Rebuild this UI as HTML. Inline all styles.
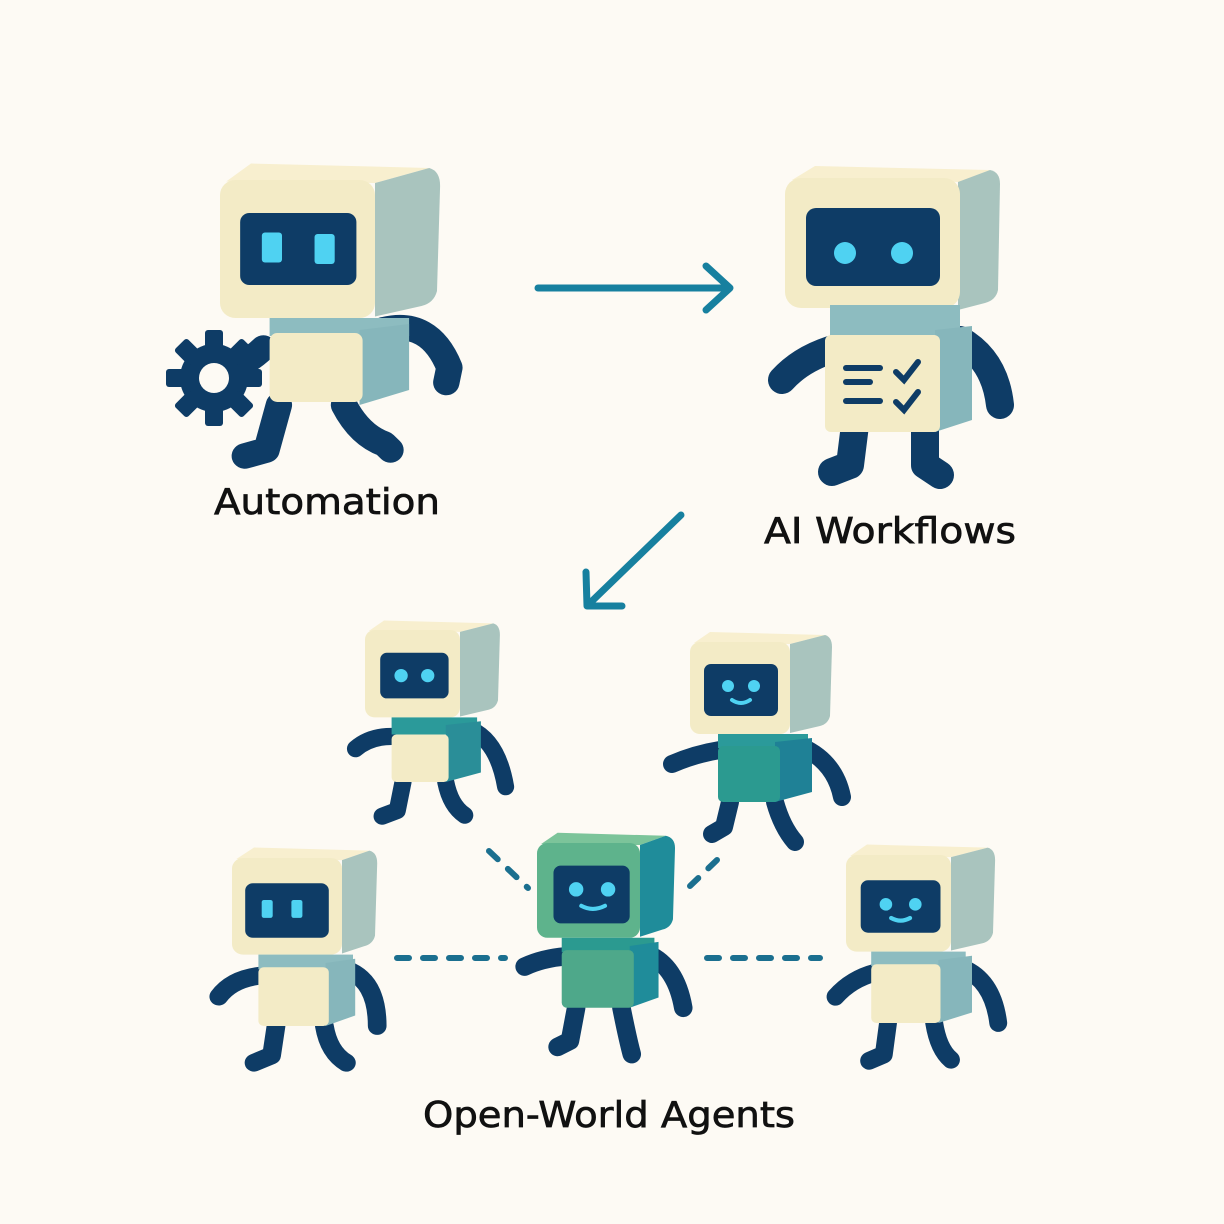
<!DOCTYPE html>
<html><head><meta charset="utf-8"><style>
html,body{margin:0;padding:0;background:#fdfaf4;}
svg{display:block}
text{font-family:"DejaVu Sans","Liberation Sans",sans-serif;fill:#111;stroke:#111;stroke-width:0.7;}
</style></head><body>
<svg width="1224" height="1224" viewBox="0 0 1224 1224" xmlns="http://www.w3.org/2000/svg">
<rect width="1224" height="1224" fill="#fdfaf4"/>

<g stroke="#17809f" stroke-width="7" stroke-linecap="round" fill="none" stroke-linejoin="round">
  <line x1="538" y1="288" x2="728" y2="288"/>
  <polyline points="706,266 730,288 706,310"/>
  <line x1="681" y1="515" x2="590" y2="603"/>
  <polyline points="586,572 587,606 622,606"/>
</g>

<g stroke="#1b6f8f" stroke-width="6" stroke-linecap="round" stroke-dasharray="12 14" fill="none">
  <line x1="489" y1="851" x2="528" y2="888"/>
  <line x1="717" y1="860" x2="690" y2="886"/>
  <line x1="397" y1="958" x2="505" y2="958"/>
  <line x1="707" y1="958" x2="820" y2="958"/>
</g>

<g transform="translate(220,180) scale(1.55,1.5)">
  <g stroke="#0e3c66" stroke-width="17" stroke-linecap="round" stroke-linejoin="round" fill="none">
    <path d="M105,100 Q135,92 148,125 L146,135"/>
    <path d="M28,112 Q15,125 -5,130"/>
    <path d="M38,150 L30,180 L16,184"/>
    <path d="M80,150 Q90,170 106,176 L110,180"/>
  </g>
  <path d="M4,1 L20,-11 L135,-8 L100,2 Z" fill="#f8efcf"/>
  <path d="M100,2 L135,-8 Q142,-6 142,4 L140,74 Q138,82 130,84 L100,91 Z" fill="#a9c4be"/>
  <rect x="0" y="0" width="100" height="92" rx="10" fill="#f3ebc6"/>
  <rect x="13" y="22" width="75" height="48" rx="6" fill="#0e3c66"/>
  <rect x="27" y="35" width="13" height="20" rx="2" fill="#4fd2f2"/>
  <rect x="61" y="36" width="13" height="20" rx="2" fill="#4fd2f2"/>
  <rect x="32" y="92" width="90" height="12" fill="#8dbcc0"/>
  <path d="M90,100 L122,96 L122,140 L90,150 Z" fill="#86b6bb"/>
  <rect x="32" y="102" width="60" height="46" rx="5" fill="#f3ebc6"/>
</g>
<g transform="translate(214,378)" fill="#0e3c66">
  <circle r="34"/>
  <g>
    <rect x="-9" y="-48" width="18" height="22" rx="3"/>
    <rect x="-9" y="-48" width="18" height="22" rx="3" transform="rotate(45)"/>
    <rect x="-9" y="-48" width="18" height="22" rx="3" transform="rotate(90)"/>
    <rect x="-9" y="-48" width="18" height="22" rx="3" transform="rotate(135)"/>
    <rect x="-9" y="-48" width="18" height="22" rx="3" transform="rotate(180)"/>
    <rect x="-9" y="-48" width="18" height="22" rx="3" transform="rotate(225)"/>
    <rect x="-9" y="-48" width="18" height="22" rx="3" transform="rotate(270)"/>
    <rect x="-9" y="-48" width="18" height="22" rx="3" transform="rotate(315)"/>
  </g>
  <circle r="15" fill="#fdfaf4"/>
</g>

<g stroke="#0e3c66" stroke-width="28" stroke-linecap="round" stroke-linejoin="round" fill="none">
  <path d="M830,350 Q800,360 782,380"/>
  <path d="M960,340 Q995,360 1000,405"/>
  <path d="M855,425 L850,465 L832,472"/>
  <path d="M925,425 L925,465 L940,475"/>
</g>
<path d="M792,180 L815,166 L990,170 L960,182 Z" fill="#f8efcf"/>
<path d="M958,182 L990,170 Q1000,172 1000,184 L998,290 Q996,300 985,303 L958,310 Z" fill="#a9c4be"/>
<rect x="785" y="178" width="175" height="130" rx="16" fill="#f3ebc6"/>
<rect x="806" y="208" width="134" height="78" rx="10" fill="#0e3c66"/>
<circle cx="845" cy="253" r="11" fill="#4fd2f2"/>
<circle cx="902" cy="253" r="11" fill="#4fd2f2"/>
<rect x="830" y="305" width="130" height="35" fill="#8dbcc0"/>
<path d="M935,330 L972,326 L972,420 L935,432 Z" fill="#86b6bb"/>
<rect x="825" y="335" width="115" height="97" rx="6" fill="#f3ebc6"/>
<g stroke="#0e3c66" stroke-width="6" stroke-linecap="round" fill="none">
  <line x1="846" y1="368" x2="880" y2="368"/>
  <line x1="846" y1="382" x2="870" y2="382"/>
  <line x1="846" y1="401" x2="880" y2="401"/>
  <polyline points="896,372 904,380 918,362"/>
  <polyline points="896,402 904,410 918,392"/>
</g>

<g transform="translate(365,630) scale(0.95)">
  <g stroke="#0e3c66" stroke-width="18" stroke-linecap="round" stroke-linejoin="round" fill="none">
    <path d="M28,112 Q5,112 -10,125"/>
    <path d="M112,105 Q140,118 148,165"/>
    <path d="M40,160 L34,190 L18,196"/>
    <path d="M85,160 Q90,185 105,195"/>
  </g>
  <path d="M4,1 L20,-10 L135,-7 L100,2 Z" fill="#f8efcf"/>
  <path d="M100,2 L135,-7 Q142,-5 142,5 L140,74 Q138,82 130,84 L100,91 Z" fill="#a9c4be"/>
  <rect x="0" y="0" width="100" height="92" rx="10" fill="#f3ebc6"/>
  <rect x="16" y="24" width="72" height="48" rx="7" fill="#0e3c66"/>
  <circle cx="38" cy="48" r="7" fill="#4fd2f2"/>
  <circle cx="66" cy="48" r="7" fill="#4fd2f2"/>
  <rect x="28" y="92" width="90" height="18" fill="#2b9a9a"/>
  <path d="M85,100 L122,96 L122,150 L85,160 Z" fill="#2a8e98"/>
  <rect x="28" y="110" width="60" height="50" rx="5" fill="#f3ebc6"/>
</g>

<g transform="translate(690,642) scale(1.0)">
  <g stroke="#0e3c66" stroke-width="18" stroke-linecap="round" stroke-linejoin="round" fill="none">
    <path d="M30,108 Q5,112 -18,122"/>
    <path d="M112,105 Q145,120 152,155"/>
    <path d="M40,160 L34,185 L22,192"/>
    <path d="M85,160 Q92,185 105,200"/>
  </g>
  <path d="M4,1 L20,-10 L135,-7 L100,2 Z" fill="#f8efcf"/>
  <path d="M100,2 L135,-7 Q142,-5 142,5 L140,74 Q138,82 130,84 L100,91 Z" fill="#a9c4be"/>
  <rect x="0" y="0" width="100" height="92" rx="10" fill="#f3ebc6"/>
  <rect x="14" y="22" width="74" height="52" rx="7" fill="#0e3c66"/>
  <circle cx="38" cy="44" r="6" fill="#4fd2f2"/>
  <circle cx="64" cy="44" r="6" fill="#4fd2f2"/>
  <path d="M42,58 Q51,64 60,58" stroke="#4fd2f2" stroke-width="4" fill="none" stroke-linecap="round"/>
  <rect x="28" y="92" width="90" height="14" fill="#2b9a9a"/>
  <path d="M85,100 L122,96 L122,150 L85,160 Z" fill="#1f8196"/>
  <rect x="28" y="104" width="62" height="56" rx="5" fill="#2b9a90"/>
</g>

<g transform="translate(537,843) scale(1.03)">
  <g stroke="#0e3c66" stroke-width="18" stroke-linecap="round" stroke-linejoin="round" fill="none">
    <path d="M28,110 Q5,112 -12,120"/>
    <path d="M108,108 Q135,120 142,160"/>
    <path d="M38,160 L32,192 L20,198"/>
    <path d="M82,160 Q88,190 92,205"/>
  </g>
  <path d="M4,1 L20,-10 L125,-7 L100,2 Z" fill="#7cc49a"/>
  <path d="M100,2 L125,-7 Q134,-5 134,5 L132,74 Q130,82 122,84 L100,91 Z" fill="#1f8c9a"/>
  <rect x="0" y="0" width="100" height="92" rx="10" fill="#5eb38c"/>
  <rect x="16" y="22" width="74" height="56" rx="7" fill="#0e3c66"/>
  <circle cx="38" cy="45" r="7" fill="#4fd2f2"/>
  <circle cx="69" cy="45" r="7" fill="#4fd2f2"/>
  <path d="M43,61 Q54,67 66,61" stroke="#4fd2f2" stroke-width="4" fill="none" stroke-linecap="round"/>
  <rect x="24" y="92" width="90" height="14" fill="#2b9a90"/>
  <path d="M90,100 L118,96 L118,150 L90,160 Z" fill="#1f8c9a"/>
  <rect x="24" y="104" width="70" height="56" rx="5" fill="#4ea88a"/>
</g>

<g transform="translate(232,858) scale(1.1,1.05)">
  <g stroke="#0e3c66" stroke-width="17" stroke-linecap="round" stroke-linejoin="round" fill="none">
    <path d="M26,112 Q0,115 -12,132"/>
    <path d="M108,108 Q132,120 132,160"/>
    <path d="M40,160 L36,188 L20,195"/>
    <path d="M84,160 Q88,185 104,195"/>
  </g>
  <path d="M4,1 L20,-10 L125,-7 L100,2 Z" fill="#f8efcf"/>
  <path d="M100,2 L125,-7 Q132,-5 132,5 L130,74 Q128,82 120,84 L100,91 Z" fill="#a9c4be"/>
  <rect x="0" y="0" width="100" height="92" rx="10" fill="#f3ebc6"/>
  <rect x="12" y="24" width="76" height="52" rx="7" fill="#0e3c66"/>
  <rect x="27" y="40" width="10" height="17" rx="2" fill="#4fd2f2"/>
  <rect x="54" y="40" width="10" height="17" rx="2" fill="#4fd2f2"/>
  <rect x="24" y="92" width="86" height="14" fill="#8dbcc0"/>
  <path d="M85,100 L112,96 L112,150 L85,160 Z" fill="#86b6bb"/>
  <rect x="24" y="104" width="64" height="56" rx="5" fill="#f3ebc6"/>
</g>

<g transform="translate(846,855) scale(1.05)">
  <g stroke="#0e3c66" stroke-width="17" stroke-linecap="round" stroke-linejoin="round" fill="none">
    <path d="M28,112 Q5,118 -10,135"/>
    <path d="M112,108 Q140,120 145,160"/>
    <path d="M40,160 L36,190 L22,196"/>
    <path d="M84,160 Q88,185 100,195"/>
  </g>
  <path d="M4,1 L20,-10 L135,-7 L100,2 Z" fill="#f8efcf"/>
  <path d="M100,2 L135,-7 Q142,-5 142,5 L140,74 Q138,82 130,84 L100,91 Z" fill="#a9c4be"/>
  <rect x="0" y="0" width="100" height="92" rx="10" fill="#f3ebc6"/>
  <rect x="14" y="24" width="76" height="50" rx="7" fill="#0e3c66"/>
  <circle cx="38" cy="47" r="6" fill="#4fd2f2"/>
  <circle cx="66" cy="47" r="6" fill="#4fd2f2"/>
  <path d="M43,60 Q52,65 61,60" stroke="#4fd2f2" stroke-width="4" fill="none" stroke-linecap="round"/>
  <rect x="24" y="92" width="90" height="14" fill="#8dbcc0"/>
  <path d="M88,100 L120,96 L120,150 L88,160 Z" fill="#86b6bb"/>
  <rect x="24" y="104" width="66" height="56" rx="5" fill="#f3ebc6"/>
</g>

<text x="327" y="514" font-size="36" text-anchor="middle" textLength="226" lengthAdjust="spacingAndGlyphs">Automation</text>
<text x="890" y="543" font-size="36" text-anchor="middle" textLength="252" lengthAdjust="spacingAndGlyphs">AI Workflows</text>
<text x="609" y="1127" font-size="36" text-anchor="middle" textLength="372" lengthAdjust="spacingAndGlyphs">Open-World Agents</text>
</svg>
</body></html>
